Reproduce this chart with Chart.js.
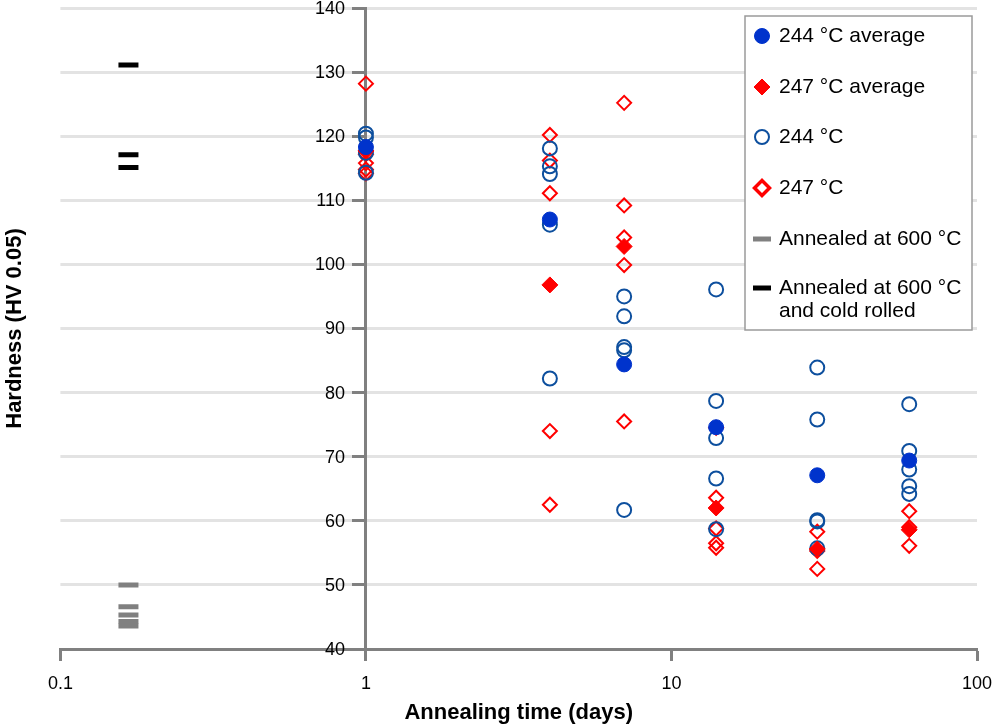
<!DOCTYPE html>
<html lang="en">
<head>
    <meta charset="UTF-8">
    <title>Hardness vs annealing time</title>
    <script src="https://cdn.jsdelivr.net/npm/chart.js"></script>
    <style>
        body {
            margin: 0;
            background: #fff;
            font-family: "Liberation Sans", Arial, sans-serif;
        }
        canvas {
            display: block;
        }
    </style>
</head>
<body>
    <canvas id="hardnessChart" width="997" height="724"></canvas>

    <script>
        // Annealing times (days) and the averaged hardness per temperature
        const days = [1, 4, 7, 14, 30, 60];
        const avg244 = [118.3, 107.0, 84.4, 74.6, 67.1, 69.4];
        const avg247 = [117.7, 96.8, 102.8, 62.0, 55.6, 58.6];

        // Individual indents, 244 °C
        const ind244Days = [1, 1, 1, 1, 4, 4, 4, 4, 4, 7, 7, 7, 7, 7, 14, 14, 14, 14, 14, 30, 30, 30, 30, 30, 60, 60, 60, 60, 60];
        const ind244Hv = [120.4, 119.8, 117.4, 114.3,
                          118.1, 115.3, 114.1, 106.2, 82.2,
                          95.0, 91.9, 87.1, 86.6, 61.7,
                          96.1, 78.7, 72.9, 66.6, 58.7,
                          83.9, 75.8, 60.1, 59.9, 55.7,
                          78.2, 70.9, 68.0, 65.4, 64.2];

        // Individual indents, 247 °C
        const ind247Days = [1, 1, 1, 1, 1, 4, 4, 4, 4, 4, 7, 7, 7, 7, 7, 14, 14, 14, 14, 14, 30, 30, 30, 60, 60, 60];
        const ind247Hv = [128.2, 117.2, 115.8, 114.8, 114.2,
                          120.2, 116.2, 111.1, 74.0, 62.5,
                          125.2, 109.2, 104.2, 99.9, 75.5,
                          74.5, 63.6, 58.8, 56.5, 55.8,
                          58.3, 55.3, 52.5,
                          61.5, 59.0, 56.1];

        // Reference states, plotted at 4 h (1/6 day)
        const refDay = 0.167;
        const annealedHv = [50.0, 46.6, 45.3, 44.3, 43.6];
        const coldRolledHv = [131.1, 117.1, 115.1];

        // Axis ticks
        const xTickValues = [0.1, 1, 10, 100];
        const xTickLabels = ['0.1', '1', '10', '100'];

        const seriesNames = ['244 °C average', '247 °C average', '244 °C', '247 °C', 'Annealed at 600 °C', 'Annealed at 600 °C\nand cold rolled'];

        const FONT = '"Liberation Sans", Arial, sans-serif';
        const AXIS_GREY = '#808080';
        const PLOT_TOP = 8;

        function pairs(xs, ys) {
            return ys.map((y, i) => ({ x: Array.isArray(xs) ? xs[i] : xs, y: y }));
        }

        // keep label overhang from pushing the plot area in
        function noPadding(scale) {
            scale.paddingTop = 0;
            scale.paddingBottom = 0;
            scale.paddingLeft = 0;
            scale.paddingRight = 0;
        }

        // the crossing y axis leaves a gap at the top; stretch it back up
        const plotTop = {
            id: 'plotTop',
            afterLayout(chart) {
                const area = chart.chartArea;
                area.top = PLOT_TOP;
                area.height = area.bottom - PLOT_TOP;
                ['y', 'yTitle'].forEach(id => {
                    const s = chart.scales[id];
                    s.top = PLOT_TOP;
                    s.height = s.bottom - PLOT_TOP;
                    s.configure();
                });
            }
        };

        // y tick labels sit left of the axis that crosses at x = 1
        const yLabels = {
            id: 'yLabels',
            beforeDatasetsDraw(chart) {
                const ys = chart.scales.y;
                const axisX = chart.scales.x.getPixelForValue(1);
                const ctx = chart.ctx;
                ctx.save();
                ctx.font = '18px ' + FONT;
                ctx.fillStyle = '#000';
                ctx.textAlign = 'right';
                ctx.textBaseline = 'middle';
                ys.ticks.forEach(t => {
                    ctx.fillText(String(t.value), axisX - 21, ys.getPixelForValue(t.value) + 1);
                });
                ctx.restore();
            }
        };

        // Legend drawn inside the plot with a box, like the original figure
        const boxLegend = {
            id: 'boxLegend',
            afterDraw(chart) {
                const ctx = chart.ctx;
                const left = 745, top = 16, right = 972, bottom = 330;
                const rowY = [36, 87, 137, 188, 239, 288];
                ctx.save();
                ctx.fillStyle = '#fff';
                ctx.fillRect(left, top, right - left, bottom - top);
                ctx.strokeStyle = '#9a9a9a';
                ctx.lineWidth = 1.5;
                ctx.strokeRect(left, top, right - left, bottom - top);

                ctx.font = '21px ' + FONT;
                ctx.textBaseline = 'middle';
                chart.data.datasets.forEach((ds, i) => {
                    const y = rowY[i];
                    ctx.fillStyle = ds.pointBackgroundColor;
                    ctx.strokeStyle = ds.pointBorderColor;
                    ctx.lineWidth = ds.legendBorder;
                    Chart.helpers.drawPoint(ctx, {
                        pointStyle: ds.pointStyle,
                        radius: ds.legendRadius,
                        borderWidth: ds.legendBorder,
                        rotation: 0
                    }, 762, y);
                    ctx.fillStyle = '#000';
                    ds.label.split('\n').forEach((line, k) => {
                        ctx.fillText(line, 779, y + k * 23);
                    });
                });
                ctx.restore();
            }
        };

        const ctx = document.getElementById('hardnessChart').getContext('2d');
        new Chart(ctx, {
            type: 'scatter',
            data: {
                datasets: [
                    {
                        label: seriesNames[0],
                        data: pairs(days, avg244),
                        pointStyle: 'circle',
                        pointRadius: 7.5,
                        pointBorderWidth: 1,
                        pointBackgroundColor: '#0033cc',
                        pointBorderColor: '#0033cc',
                        legendRadius: 7.5,
                        legendBorder: 1
                    },
                    {
                        label: seriesNames[1],
                        data: pairs(days, avg247),
                        pointStyle: 'rectRot',
                        pointRadius: 8,
                        pointBorderWidth: 1,
                        pointBackgroundColor: '#ff0000',
                        pointBorderColor: '#ff0000',
                        legendRadius: 8,
                        legendBorder: 1
                    },
                    {
                        label: seriesNames[2],
                        data: pairs(ind244Days, ind244Hv),
                        pointStyle: 'circle',
                        pointRadius: 7,
                        pointBorderWidth: 2,
                        pointBackgroundColor: 'rgba(255,255,255,0)',
                        pointBorderColor: '#0d4f9e',
                        legendRadius: 7,
                        legendBorder: 2
                    },
                    {
                        label: seriesNames[3],
                        data: pairs(ind247Days, ind247Hv),
                        pointStyle: 'rectRot',
                        pointRadius: 7,
                        pointBorderWidth: 2,
                        pointBackgroundColor: 'rgba(255,255,255,0)',
                        pointBorderColor: '#ff0000',
                        legendRadius: 7.5,
                        legendBorder: 3.5
                    },
                    {
                        label: seriesNames[4],
                        data: pairs(refDay, annealedHv),
                        pointStyle: 'line',
                        pointRadius: 10,
                        pointBorderWidth: 5,
                        pointBackgroundColor: AXIS_GREY,
                        pointBorderColor: AXIS_GREY,
                        legendRadius: 9,
                        legendBorder: 5
                    },
                    {
                        label: seriesNames[5],
                        data: pairs(refDay, coldRolledHv),
                        pointStyle: 'line',
                        pointRadius: 10,
                        pointBorderWidth: 5,
                        pointBackgroundColor: '#000',
                        pointBorderColor: '#000',
                        legendRadius: 9,
                        legendBorder: 5
                    }
                ]
            },
            options: {
                responsive: false,
                animation: false,
                layout: {
                    padding: { left: 0, right: 20, top: 8, bottom: 0 }
                },
                plugins: {
                    legend: { display: false },
                    tooltip: { enabled: false }
                },
                scales: {
                    x: {
                        type: 'logarithmic',
                        min: 0.1,
                        max: 100,
                        afterBuildTicks: scale => {
                            scale.ticks = xTickValues.map(v => ({ value: v }));
                        },
                        afterFit: noPadding,
                        ticks: {
                            color: '#000',
                            font: { family: FONT, size: 18 },
                            padding: 12,
                            maxRotation: 0,
                            autoSkip: false,
                            callback: value => xTickLabels[xTickValues.indexOf(value)] ?? ''
                        },
                        grid: {
                            drawOnChartArea: false,
                            drawTicks: true,
                            tickLength: 12,
                            tickColor: AXIS_GREY,
                            tickWidth: 3
                        },
                        border: { color: AXIS_GREY, width: 3 },
                        title: {
                            display: true,
                            text: 'Annealing time (days)',
                            color: '#000',
                            font: { family: FONT, size: 22, weight: 'bold' },
                            padding: { top: -7, bottom: -2 }
                        }
                    },
                    y: {
                        type: 'linear',
                        position: { x: 1 },
                        min: 40,
                        max: 140,
                        afterFit: noPadding,
                        ticks: {
                            stepSize: 10,
                            display: false
                        },
                        grid: {
                            color: '#e3e3e3',
                            lineWidth: 3,
                            tickLength: 12,
                            tickColor: AXIS_GREY,
                            tickWidth: 3
                        },
                        border: { color: AXIS_GREY, width: 3 }
                    },
                    // title-only axis on the far left
                    yTitle: {
                        type: 'linear',
                        position: 'left',
                        afterFit: noPadding,
                        ticks: { display: false },
                        grid: { display: false },
                        border: { display: false },
                        title: {
                            display: true,
                            text: 'Hardness (HV 0.05)',
                            color: '#000',
                            font: { family: FONT, size: 22, weight: 'bold' },
                            padding: { top: 2, bottom: 24 }
                        }
                    }
                }
            },
            plugins: [plotTop, yLabels, boxLegend]
        });
    </script>
</body>
</html>
